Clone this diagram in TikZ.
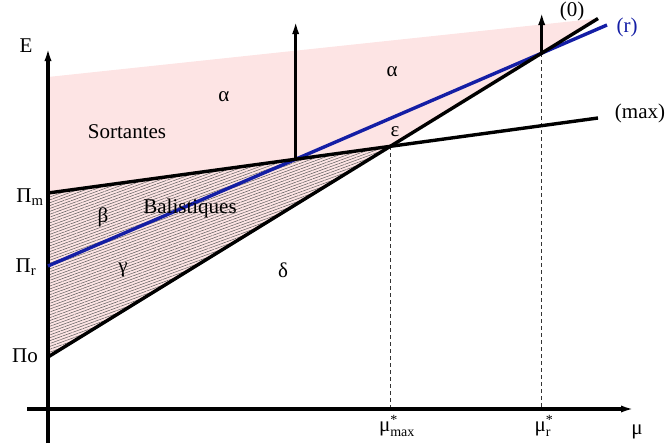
\documentclass[tikz,border=0pt]{standalone}
\usepackage{fontspec}
\setmainfont{Liberation Serif}
\usetikzlibrary{arrows.meta, patterns.meta}
\definecolor{sortpink}{RGB}{253,228,228}
\definecolor{rblue}{RGB}{20,30,165}
\newcommand{\mustar}[1]{μ$^{\hbox{\fontsize{14}{14}\selectfont *}}_{\hbox{\fontsize{14}{14}\selectfont #1}}$}

\begin{document}
\begin{tikzpicture}[x=1pt, y=-1pt, font=\fontsize{21}{25}\selectfont,
    axis/.style={line width=3.4pt, -{Latex[length=14pt, width=7pt]}},
    bound/.style={line width=3.4pt},
    guide/.style={line width=1.1pt, dash pattern=on 4pt off 3pt, black!80},
    lbl/.style={inner sep=0pt}]
  \useasboundingbox (0,0) rectangle (665,445);
  % ends of the three lines on the E axis and at the right
  \coordinate (Po) at (48,357);
  \coordinate (Pr) at (48,266);
  \coordinate (Pm) at (48,193);
  \coordinate (Zend) at (598,18.5);
  \coordinate (Rend) at (607,25);
  \coordinate (Mend) at (598,118);
  \coordinate (Ptop) at (48,77);
  \coordinate (Xmax) at (intersection of Po--Zend and Pm--Mend);
  \coordinate (Xr) at (intersection of Po--Zend and Pr--Rend);
  \coordinate (Xa) at (intersection of Pr--Rend and Pm--Mend);
  \coordinate (Ta) at (Xa |- 0,20);
  \coordinate (Tr) at (Xr |- 0,11);
  \coordinate (Gmax) at (Xmax |- 0,409);
  \coordinate (Gr) at (Xr |- 0,409);
  \coordinate (Ebot) at (48,443);
  \coordinate (Etop) at (48,47);
  \coordinate (Uleft) at (27,409);
  \coordinate (Uright) at (635,409);

  \fill[sortpink] (Ptop) -- (Zend) -- (Po) -- cycle;
  \fill[pattern={Lines[angle=20, distance=2.7pt, line width=0.5pt]}, pattern color=black!65]
    (Pm) -- (Xmax) -- (Po) -- cycle;

  \draw[guide] (Xmax) -- (Gmax);
  \draw[guide] (Xr) -- (Gr);
  \draw[axis] (Ebot) -- (Etop);
  \draw[axis] (Uleft) -- (Uright);

  \draw[bound, rblue] (Pr) -- (Rend);
  \draw[bound] (Pm) -- (Mend);
  \draw[bound] (Po) -- (Zend);
  \draw[axis, line width=3pt] (Xa) -- (Ta);
  \draw[axis, line width=3pt] (Xr) -- (Tr);

  \foreach \n/\x/\y/\t in {lE/26/46/E, lmu/637/432/μ, lSort/127/132/Sortantes,
      lBal/190/208/Balistiques, laa/224/97/α, lab/392/72/α, leps/395/132/ε,
      lbeta/103/217/β, lgam/123/270/γ, ldel/283/270/δ,
      lPm/30/197/{Π\textsubscript{m}}, lPr/26/267/{Π\textsubscript{r}}, lPo/25/356/Πo,
      lzero/572/11/(0), lmax/640/113/(max)}
    \node[lbl] (\n) at (\x,\y) {\t};
  \node[lbl, text=rblue] (lr) at (627,27) {(r)};
  \node[lbl] (lmumax) at (397,426) {\mustar{max}};
  \node[lbl] (lmur) at (544,426) {\mustar{r}};
\end{tikzpicture}
\end{document}
